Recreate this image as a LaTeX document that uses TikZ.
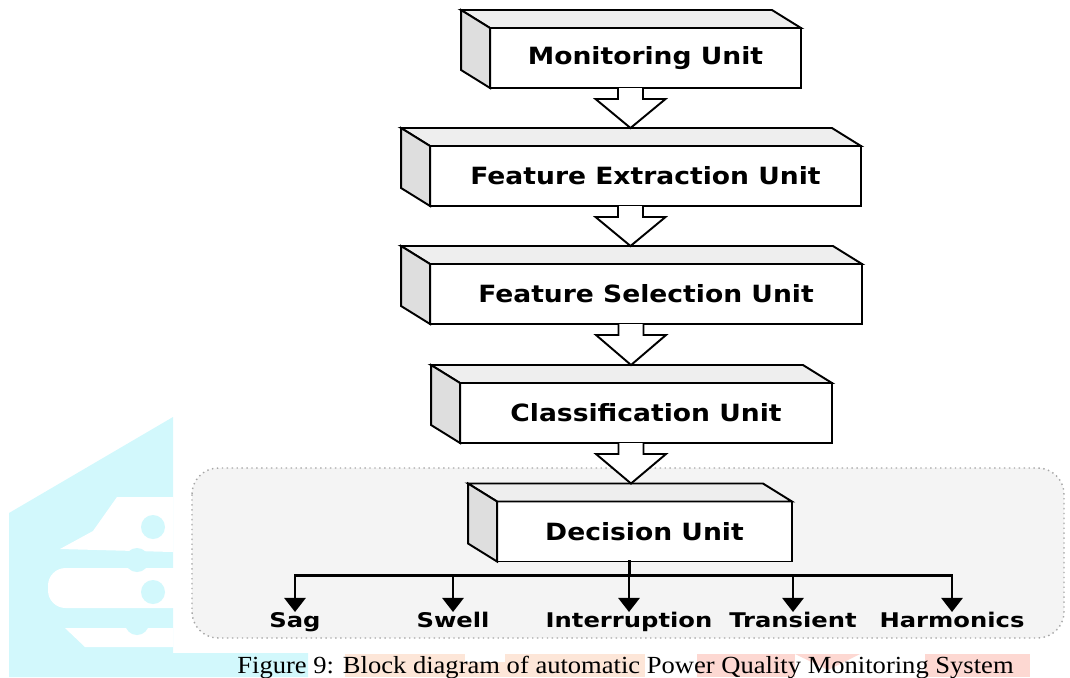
\documentclass[tikz,border=0pt]{standalone}
\usepackage{fontspec}
\setmainfont{Liberation Serif}
\newfontfamily\unitfont{DejaVu Sans}
\usetikzlibrary{positioning,calc,arrows.meta}
\definecolor{PanelGray}{RGB}{244,244,244}
\definecolor{TopGray}{RGB}{238,238,238}
\definecolor{SideGray}{RGB}{222,222,222}
\definecolor{MarkCyan}{RGB}{210,248,252}
\definecolor{MarkPeach}{RGB}{253,230,216}
\definecolor{MarkPink}{RGB}{253,216,210}
\newcommand{\wide}[2]{\scalebox{#1}[1]{#2}}
\tikzset{
  unitbox/.style={draw=black,fill=white,line width=1.1pt,inner sep=0pt,outer sep=0pt,
    font=\unitfont\bfseries\fontsize{13.5}{16}\selectfont,minimum height=1.2cm},
  cubeface/.style={draw=black,line width=1.1pt},
  hollowarrow/.style={draw=black,fill=white,line width=1.1pt},
  branchline/.style={draw=black,line width=1.5pt,line cap=rect},
  branch/.style={draw=black,line width=1.5pt,-{Triangle[width=12pt,length=8pt]}},
  leaf/.style={font=\unitfont\bfseries\fontsize{11.5}{13}\selectfont,inner sep=0pt,
    anchor=north,text height=8.6pt,text depth=2pt},
  panel/.style={draw=black!35,dotted,fill=PanelGray,rounded corners=15pt,line width=0.8pt},
  caption/.style={font=\fontsize{14}{16}\selectfont,inner sep=0pt,anchor=base},
}
% back faces of a unit block
\newcommand{\blockdepth}[1]{%
  \draw[cubeface,fill=TopGray] (#1.north west) -- ++(-29,-18) -- ($(#1.north east)+(-29,-18)$) -- (#1.north east) -- cycle;
  \draw[cubeface,fill=SideGray] (#1.north west) -- ++(-29,-18) -- ($(#1.south west)+(-29,-18)$) -- (#1.south west) -- cycle;}
% open arrow from one block into the next
\newcommand{\feed}[2]{%
  \coordinate (t) at ($(#1.south)+(-15,0)$);
  \coordinate (h) at ($(t |- #2.north)+(0,-18)$);
  \draw[hollowarrow] ($(t)+(-12.5,0)$) -- ($(t)+(-12.5,11)$) -- ($(t)+(-35,11)$) -- (h)
    -- ($(t)+(35,11)$) -- ($(t)+(12.5,11)$) -- ($(t)+(12.5,0)$);}

\begin{document}
\begin{tikzpicture}[x=0.02cm,y=-0.02cm]
  \useasboundingbox (0,0) rectangle (1070,677);
  % page watermark
  \fill[MarkCyan] (9,513) -- (173,417) -- (173,653) -- (308,653) -- (308,677) -- (9,677) -- cycle;
  \fill[white] (60,549) -- (93,531) -- (117,497) -- (173,497) -- (173,552) -- cycle;
  \fill[white,rounded corners=10pt] (48,568) rectangle (190,608);
  \fill[white] (65,628) -- (173,628) -- (173,647) -- (85,647) -- cycle;
  \foreach \cx/\cy in {153/527,137/560,153/592,137/623} {\fill[MarkCyan] (\cx,\cy) circle (0.24cm);}
  \fill[MarkPeach] (345,654) rectangle (645,677);
  \fill[white] (465,654) rectangle (505,662);
  \fill[MarkPink] (697,654) rectangle (795,677);
  \fill[MarkPink] (795,654) -- (860,654) -- (828,670) -- cycle;
  \fill[MarkPink] (925,654) rectangle (1030,677);

  \draw[panel] (192,468) rectangle (1064,638);

  \node[unitbox,minimum width=6.22cm] (mon) at (645.5,58) {\wide{1.12}{Monitoring Unit}};
  \node[unitbox,minimum width=8.62cm] (ext) at (645.5,176) {\wide{1.12}{Feature Extraction Unit}};
  \node[unitbox,minimum width=8.64cm] (sel) at (646,294) {\wide{1.12}{Feature Selection Unit}};
  \node[unitbox,minimum width=7.44cm] (cls) at (646,413) {\wide{1.12}{Classification Unit}};
  \node[unitbox,minimum width=5.9cm] (dec) at (644.5,531.5) {\wide{1.12}{Decision Unit}};
  \foreach \b in {mon,ext,sel,cls,dec} {\blockdepth{\b}}

  \feed{mon}{ext}
  \feed{ext}{sel}
  \feed{sel}{cls}
  \feed{cls}{dec}

  % outcomes of the decision unit
  \coordinate (bus) at ($(dec.south)+(-15,14)$);
  \foreach \n/\t/\x in {sag/Sag/295,swell/Swell/453,intr/Interruption/629,trans/Transient/793,harm/Harmonics/952}
    {\node[leaf] (\n) at (\x,612) {\wide{1.2}{\t}};}
  \draw[branchline] ($(dec.south)+(-15,0)$) -- (bus);
  \draw[branchline] (sag.north |- bus) -- (harm.north |- bus);
  \foreach \n in {sag,swell,intr,trans,harm} {\draw[branch] (\n.north |- bus) -- (\n.north);}

  \node[caption] (cap) at (625.5,673) {\wide{1.08}{Figure 9: Block diagram of automatic Power Quality Monitoring System}};
\end{tikzpicture}
\end{document}
